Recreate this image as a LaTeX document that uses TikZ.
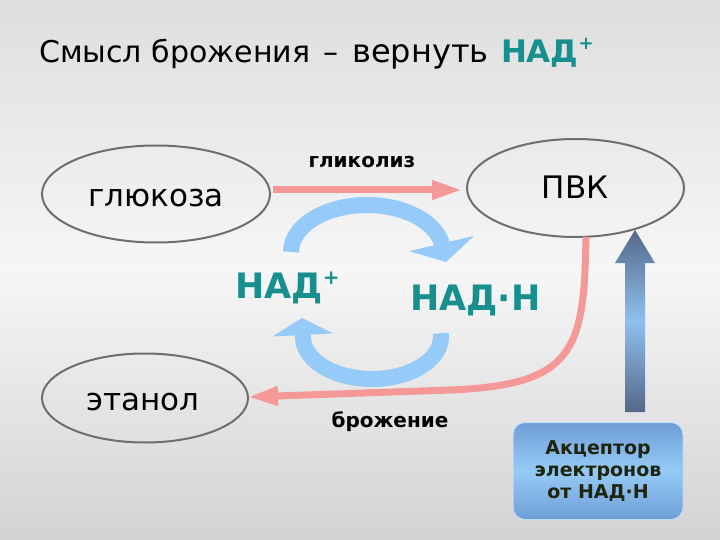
\documentclass[tikz,border=0pt]{standalone}
\usepackage{fontspec}
\setmainfont{DejaVu Sans}
\usetikzlibrary{shapes.geometric,arrows.meta}
\definecolor{tealc}{RGB}{24,143,143}
\definecolor{pinkc}{RGB}{245,152,152}
\definecolor{bluec}{RGB}{150,202,248}
\definecolor{outl}{RGB}{110,110,110}
\definecolor{darkb}{RGB}{84,104,138}
\definecolor{lightb}{RGB}{143,192,238}
\definecolor{boxdark}{RGB}{110,158,214}
\definecolor{boxlight}{RGB}{150,202,246}
\definecolor{boxtext}{RGB}{30,36,14}
\definecolor{bgedge}{RGB}{222,222,222}
\definecolor{bgmid}{RGB}{246,246,246}
\newcommand{\fsz}[1]{\fontsize{#1}{#1}\selectfont}
\begin{document}
\begin{tikzpicture}[x=1pt,y=-1pt,
  oval/.style={ellipse,draw=outl,line width=2pt,inner sep=0pt},
  ovaltext/.style={anchor=base,font=\fsz{31},inner sep=0pt},
  pinkarrow/.style={draw=pinkc,line width=7pt,-{Triangle[width=18pt,length=30pt]}},
  bluearc/.style={draw=bluec,line width=16pt},
  nadtext/.style={font=\fsz{35}\bfseries,text=tealc,inner sep=0pt,anchor=base west},
  lbl/.style={font=\fsz{20}\bfseries,inner sep=0pt}
]
\useasboundingbox (0,0) rectangle (720,540);
\shade[top color=bgedge, bottom color=bgedge!95!black, middle color=bgmid] (0,0) rectangle (720,540);

% title
\node[anchor=base west,inner sep=0pt,font=\fsz{30}] (title) at (39,63)
  {Смысл брожения\hspace{4pt} –\hspace{4pt} {\fsz{32}вернуть}\hspace{3pt} \textcolor{tealc}{\fsz{31}\bfseries НАД\raisebox{0.42em}{\fsz{18}+}}};

% ovals
\node[oval,minimum width=228pt,minimum height=97pt] (glc) at (156,194) {};
\node[oval,minimum width=217pt,minimum height=98pt] (pvk) at (575.5,188) {};
\node[oval,minimum width=206pt,minimum height=89pt] (eth) at (145,398) {};
\node[ovaltext] (glct) at (156,207) {глюкоза};
\node[ovaltext] (pvkt) at (575,199) {ПВК};
\node[ovaltext] (etht) at (143,410) {этанол};

% glycolysis arrow
\coordinate (g1) at (273,190);
\coordinate (g2) at (462,190);
\draw[pinkarrow] (g1) -- (g2);
\node[lbl] (glyl) at (362,162) {гликолиз};

% fermentation arrow
\coordinate (f1) at (586,237);
\coordinate (f2) at (450,390);
\coordinate (f3) at (248,397);
\draw[pinkarrow] (f1) .. controls (584,350) and (575,385) .. (f2) -- (f3);
\node[lbl] (ferl) at (390,422) {брожение};

% NAD labels
\node[nadtext] (nadp) at (235,298) {НАД\raisebox{0.38em}{\fsz{20}+}};
\node[nadtext] (nadh) at (410,310) {НАД·Н};

% blue cycle arrows
\coordinate (u1) at (291,252);
\draw[bluearc,-{Triangle[width=66pt,length=19pt]}] (u1) arc[start angle=180,end angle=348,x radius=76,y radius=47] -- (446,262);
\coordinate (l1) at (440.7,333.3);
\draw[bluearc,-{Triangle[width=60pt,length=17pt]}] (l1) arc[start angle=-5,end angle=180,x radius=69,y radius=42] -- (302,318);

% acceptor box
\node[rounded corners=12pt,minimum width=170pt,minimum height=97pt,
  top color=boxdark,bottom color=boxdark,middle color=boxlight,draw=boxlight!60!white,line width=1pt,
  text=boxtext,font=\fsz{19}\bfseries,align=center] (acc) at (598,471)
  {Акцептор\\[3pt]электронов\\[3pt]от НАД·Н};

% vertical shaded arrow
\shade[top color=darkb,bottom color=darkb,middle color=lightb]
  (625,412) -- (625,263) -- (615,263) -- (635,230) -- (655,263) -- (645,263) -- (645,412) -- cycle;
\end{tikzpicture}
\end{document}
